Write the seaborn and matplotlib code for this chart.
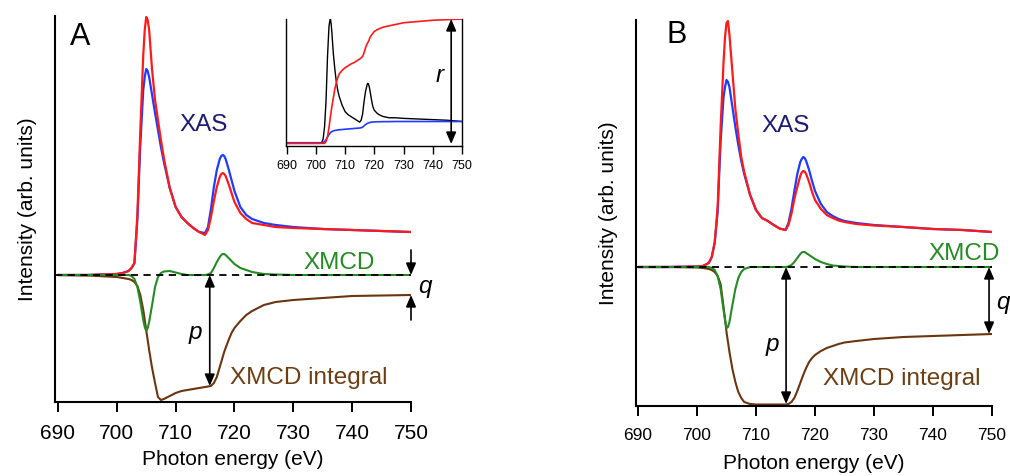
import matplotlib
matplotlib.use("Agg")
import matplotlib.pyplot as plt
import seaborn as sns

sns.set_theme(style="ticks")
plt.rcParams['font.family'] = ['Liberation Sans', 'DejaVu Sans']
plt.rcParams.update({'text.color': 'black', 'axes.labelcolor': 'black',
                     'xtick.color': 'black', 'axes.edgecolor': 'black'})

# energy grid (eV), shared by all curves
energia = [690, 695, 700, 701, 702, 702.5, 703, 703.5, 704, 704.5, 704.75, 705, 705.25, 705.5, 706, 706.5,
           707, 707.5, 708, 709, 710, 711, 712, 713, 714, 715, 715.5, 716, 716.5, 717, 717.5, 717.75,
           718, 718.25, 718.5, 719, 719.5, 720, 721, 722, 723, 724, 725, 727, 730, 735, 740, 745, 750]

# panel A
a_rojo = [0, 0, 0.01, 0.02, 0.04, 0.07, 0.12, 0.6, 1.45, 2.2, 2.45, 2.58, 2.55, 2.45, 2.05, 1.75,
          1.55, 1.35, 1.17, 0.87, 0.68, 0.58, 0.52, 0.47, 0.43, 0.40, 0.45, 0.58, 0.74, 0.88, 0.98, 1.01,
          1.02, 1.01, 0.99, 0.91, 0.82, 0.73, 0.62, 0.56, 0.52, 0.51, 0.50, 0.48, 0.47, 0.46, 0.45, 0.44, 0.43]
a_azul = [0, 0, 0.01, 0.02, 0.04, 0.07, 0.12, 0.55, 1.3, 1.85, 1.98, 2.06, 2.04, 1.98, 1.80, 1.62,
          1.45, 1.28, 1.13, 0.87, 0.68, 0.58, 0.52, 0.47, 0.43, 0.42, 0.48, 0.66, 0.88, 1.05, 1.16, 1.19,
          1.20, 1.19, 1.16, 1.06, 0.95, 0.84, 0.68, 0.60, 0.56, 0.54, 0.52, 0.50, 0.48, 0.46, 0.45, 0.44, 0.43]
a_xmcd = [0, 0, 0, 0, 0, -0.01, -0.04, -0.12, -0.27, -0.45, -0.52, -0.56, -0.53, -0.47, -0.30, -0.12,
          -0.02, 0.02, 0.035, 0.04, 0.025, 0.01, 0, 0, 0, 0, 0.005, 0.02, 0.07, 0.13, 0.18, 0.20,
          0.21, 0.21, 0.20, 0.17, 0.14, 0.11, 0.07, 0.05, 0.03, 0.02, 0.01, 0.005, 0, 0, 0, 0, 0]
a_integral = [0, -0.005, -0.02, -0.03, -0.04, -0.05, -0.07, -0.11, -0.20, -0.35, -0.45, -0.55, -0.65, -0.75, -0.93, -1.08,
              -1.22, -1.25, -1.24, -1.21, -1.18, -1.16, -1.15, -1.14, -1.13, -1.12, -1.115, -1.11, -1.08, -1.02, -0.92, -0.87,
              -0.82, -0.77, -0.73, -0.65, -0.58, -0.53, -0.46, -0.40, -0.36, -0.33, -0.30, -0.27, -0.25, -0.23, -0.21, -0.205, -0.20]

# panel B
b_rojo = [0, 0, 0.005, 0.01, 0.04, 0.10, 0.25, 0.60, 1.40, 2.05, 2.30, 2.44, 2.46, 2.32, 1.95, 1.58,
          1.33, 1.10, 0.95, 0.72, 0.57, 0.49, 0.46, 0.42, 0.385, 0.37, 0.42, 0.53, 0.68, 0.80, 0.91, 0.945,
          0.96, 0.955, 0.93, 0.85, 0.75, 0.67, 0.58, 0.52, 0.49, 0.465, 0.45, 0.43, 0.415, 0.40, 0.38, 0.37, 0.35]
b_azul = [0, 0, 0.005, 0.01, 0.04, 0.10, 0.24, 0.55, 1.25, 1.70, 1.80, 1.87, 1.85, 1.80, 1.60, 1.40,
          1.22, 1.06, 0.93, 0.72, 0.57, 0.49, 0.46, 0.42, 0.385, 0.37, 0.44, 0.58, 0.76, 0.93, 1.05, 1.08,
          1.10, 1.09, 1.06, 0.97, 0.86, 0.76, 0.63, 0.55, 0.51, 0.48, 0.46, 0.44, 0.42, 0.40, 0.38, 0.37, 0.35]
b_xmcd = [0, 0, 0, 0, 0, -0.01, -0.03, -0.09, -0.22, -0.43, -0.53, -0.61, -0.60, -0.55, -0.38, -0.22,
          -0.11, -0.05, -0.02, 0, 0, 0, 0, 0, 0, 0, 0.005, 0.02, 0.05, 0.09, 0.13, 0.145,
          0.15, 0.15, 0.14, 0.12, 0.10, 0.08, 0.05, 0.03, 0.015, 0.01, 0.005, 0, 0, 0, 0, 0, 0]
b_integral = [0, 0, -0.005, -0.01, -0.02, -0.03, -0.05, -0.09, -0.17, -0.40, -0.52, -0.65, -0.75, -0.85, -1.02, -1.15,
              -1.25, -1.31, -1.35, -1.37, -1.375, -1.375, -1.375, -1.375, -1.375, -1.375, -1.37, -1.35, -1.31, -1.24, -1.16, -1.12,
              -1.08, -1.045, -1.01, -0.95, -0.91, -0.88, -0.84, -0.81, -0.79, -0.77, -0.755, -0.74, -0.72, -0.70, -0.69, -0.68, -0.67]

# inset (normalized)
ins_xas = [0.005, 0.005, 0.005, 0.005, 0.01, 0.04, 0.14, 0.35, 0.70, 0.94, 0.98, 1.0, 0.96, 0.89, 0.72, 0.60,
           0.50, 0.43, 0.38, 0.31, 0.26, 0.235, 0.22, 0.205, 0.19, 0.175, 0.19, 0.24, 0.34, 0.42, 0.47, 0.485,
           0.48, 0.46, 0.43, 0.36, 0.30, 0.27, 0.245, 0.23, 0.22, 0.215, 0.21, 0.21, 0.205, 0.20, 0.195, 0.19, 0.18]
ins_integral = [0.005, 0.005, 0.005, 0.005, 0.005, 0.005, 0.005, 0.02, 0.06, 0.13, 0.175, 0.22, 0.26, 0.30, 0.37, 0.44,
                0.49, 0.53, 0.56, 0.59, 0.61, 0.625, 0.64, 0.65, 0.665, 0.68, 0.69, 0.70, 0.73, 0.77, 0.80, 0.81,
                0.82, 0.835, 0.85, 0.87, 0.885, 0.90, 0.915, 0.925, 0.935, 0.94, 0.945, 0.955, 0.97, 0.98, 0.99, 0.995, 1.0]
ins_escalon = [0.01, 0.01, 0.01, 0.01, 0.01, 0.012, 0.02, 0.035, 0.055, 0.075, 0.083, 0.09, 0.095, 0.10, 0.105, 0.108,
               0.11, 0.112, 0.114, 0.116, 0.118, 0.12, 0.122, 0.124, 0.126, 0.128, 0.13, 0.135, 0.145, 0.155, 0.163, 0.166,
               0.168, 0.17, 0.172, 0.175, 0.176, 0.177, 0.178, 0.178, 0.179, 0.179, 0.179, 0.18, 0.18, 0.18, 0.18, 0.18, 0.18]

ticks_x = [690, 700, 710, 720, 730, 740, 750]

ROJO = '#ff1a1a'
AZUL = '#1f3bff'
VERDE = '#238c23'
CAFE = '#6b3510'
AZUL_TXT = '#1b1b78'
CAFE_TXT = '#6e3d12'

fig = plt.figure(figsize=(10.1, 4.76), dpi=100)
ax_a = fig.add_axes([55 / 1010, 74 / 476, 356 / 1010, 386 / 476])
ax_b = fig.add_axes([636 / 1010, 70 / 476, 356 / 1010, 386 / 476])
ax_in = fig.add_axes([286 / 1010, 330 / 476, 176 / 1010, 127 / 476])

flecha = dict(arrowstyle='<|-|>,head_length=0.7,head_width=0.3', color='black', lw=1.2,
              shrinkA=0, shrinkB=0, mutation_scale=10)
flecha1 = dict(arrowstyle='-|>,head_length=0.7,head_width=0.3', color='black', lw=1.2,
               shrinkA=0, shrinkB=0, mutation_scale=10)


def panel(ax, rojo, azul, xmcd, integral, xlim, ylim, tick_fs):
    sns.lineplot(x=energia, y=azul, ax=ax, color=AZUL, lw=1.6, estimator=None)
    sns.lineplot(x=energia, y=rojo, ax=ax, color=ROJO, lw=1.6, estimator=None)
    sns.lineplot(x=energia, y=integral, ax=ax, color=CAFE, lw=1.5, estimator=None)
    sns.lineplot(x=energia, y=xmcd, ax=ax, color=VERDE, lw=1.5, estimator=None)
    ax.axhline(0, color='black', lw=1.3, ls=(0, (4, 3)), zorder=5)
    ax.set_xlim(*xlim)
    ax.set_ylim(*ylim)
    ax.set_xticks(ticks_x)
    ax.set_yticks([])
    sns.despine(ax=ax)
    for s in ['left', 'bottom']:
        ax.spines[s].set_linewidth(1.5)
    ax.tick_params(axis='x', direction='out', length=7, width=1.4, labelsize=tick_fs, pad=9)
    ax.set_xlabel('Photon energy (eV)', fontsize=15)
    ax.set_ylabel('Intensity (arb. units)', fontsize=15)
    ax.xaxis.set_label_coords(0.5, -0.125)
    ax.yaxis.set_label_coords(-0.05, 0.5)


# ---- panel A ----
panel(ax_a, a_rojo, a_azul, a_xmcd, a_integral, (689.5, 750), (-1.27, 2.59), 15)
ax_a.text(693.8, 2.38, 'A', fontsize=22, ha='center', va='center')
ax_a.text(714.8, 1.50, 'XAS', fontsize=17.5, color=AZUL_TXT, ha='center', va='center')
ax_a.text(737.8, 0.12, 'XMCD', fontsize=17.5, color=VERDE, ha='center', va='center')
ax_a.text(719.2, -1.03, 'XMCD integral', fontsize=17.5, color=CAFE_TXT, ha='left', va='center')
ax_a.annotate('', xy=(715.8, -1.11), xytext=(715.8, 0), arrowprops=flecha)
ax_a.text(713.4, -0.58, 'p', fontsize=17.5, style='italic', ha='center', va='center')
ax_a.annotate('', xy=(750, 0), xytext=(750, 0.25), arrowprops=flecha1, annotation_clip=False)
ax_a.annotate('', xy=(750, -0.20), xytext=(750, -0.45), arrowprops=flecha1, annotation_clip=False)
ax_a.text(752.3, -0.12, 'q', fontsize=17.5, style='italic', ha='center', va='center', clip_on=False)

# ---- panel B ----
panel(ax_b, b_rojo, b_azul, b_xmcd, b_integral, (689.66, 750), (-1.39, 2.47), 12.5)
ax_b.text(696.6, 2.32, 'B', fontsize=22, ha='center', va='center')
ax_b.text(715.1, 1.41, 'XAS', fontsize=17.5, color=AZUL_TXT, ha='center', va='center')
ax_b.text(745.3, 0.13, 'XMCD', fontsize=17.5, color=VERDE, ha='center', va='center')
ax_b.text(721.4, -1.12, 'XMCD integral', fontsize=17.5, color=CAFE_TXT, ha='left', va='center')
ax_b.annotate('', xy=(715.1, -1.37), xytext=(715.1, 0), arrowprops=flecha)
ax_b.text(712.7, -0.78, 'p', fontsize=17.5, style='italic', ha='center', va='center')
ax_b.annotate('', xy=(749.5, -0.67), xytext=(749.5, 0), arrowprops=flecha, annotation_clip=False)
ax_b.text(751.8, -0.35, 'q', fontsize=17.5, style='italic', ha='center', va='center', clip_on=False)

# ---- inset ----
sns.lineplot(x=energia, y=ins_xas, ax=ax_in, color='black', lw=1.0, estimator=None)
sns.lineplot(x=energia, y=ins_escalon, ax=ax_in, color=AZUL, lw=1.2, estimator=None)
sns.lineplot(x=energia, y=ins_integral, ax=ax_in, color=ROJO, lw=1.2, estimator=None)
ax_in.set_xlim(689.8, 750)
ax_in.set_ylim(-0.016, 1.0)
ax_in.set_xticks(ticks_x)
ax_in.set_yticks([])
ax_in.spines['top'].set_visible(False)
for s in ['left', 'bottom', 'right']:
    ax_in.spines[s].set_linewidth(1.0)
ax_in.tick_params(axis='x', direction='out', length=6, width=1.0, labelsize=9, pad=4)
ax_in.patch.set_alpha(0)
ax_in.annotate('', xy=(746.3, 0), xytext=(746.3, 1.0), arrowprops=flecha)
ax_in.text(742.3, 0.55, 'r', fontsize=17.5, style='italic', ha='center', va='center')

fig.savefig('out.png', dpi=100)
